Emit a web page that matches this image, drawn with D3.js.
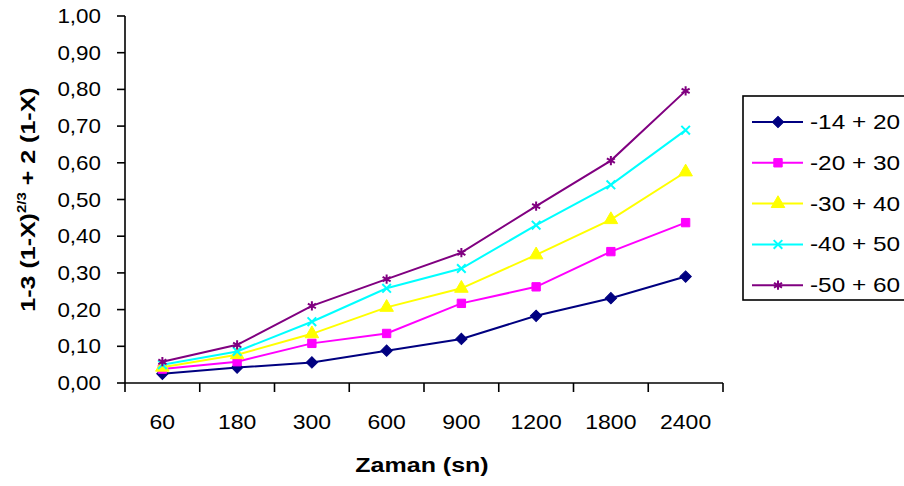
<!DOCTYPE html>
<html>
<head>
<meta charset="utf-8">
<script src="https://cdn.jsdelivr.net/npm/d3@7"></script>
<style>
  html, body { margin: 0; padding: 0; background: #fff; }
  svg { display: block; }
  text { font-family: Arial, "Liberation Sans", sans-serif; fill: #000; }
</style>
</head>
<body>
<svg id="chart" width="904" height="486"></svg>
<script>
// Reaction time categories (seconds)
const categories = ["60", "180", "300", "600", "900", "1200", "1800", "2400"];

// Particle size fractions
const seriesNames = ["-14 + 20", "-20 + 30", "-30 + 40", "-40 + 50", "-50 + 60"];

// 1-3(1-X)^(2/3) + 2(1-X) values per fraction
const s14_20 = [0.025, 0.042, 0.056, 0.088, 0.120, 0.183, 0.231, 0.290];
const s20_30 = [0.038, 0.058, 0.108, 0.135, 0.217, 0.262, 0.358, 0.437];
const s30_40 = [0.043, 0.077, 0.134, 0.206, 0.258, 0.349, 0.445, 0.575];
const s40_50 = [0.050, 0.086, 0.167, 0.258, 0.312, 0.430, 0.540, 0.689];
const s50_60 = [0.058, 0.104, 0.210, 0.283, 0.355, 0.482, 0.606, 0.796];

const yTicks = [0, 0.1, 0.2, 0.3, 0.4, 0.5, 0.6, 0.7, 0.8, 0.9, 1.0];

const seriesValues = [s14_20, s20_30, s30_40, s40_50, s50_60];
const colors = ["#000080", "#FF00FF", "#FFFF00", "#00FFFF", "#800080"];
const symbols = [d3.symbolSquare, d3.symbolSquare, d3.symbolTriangle, d3.symbolTimes, d3.symbolAsterisk];
const symbolSizes = [64, 70, 80, 50, 60];
const symbolRotate = [45, 0, 0, 0, 0];
const filled = [true, true, true, false, false];

const svg = d3.select("#chart");
const margin = { left: 125, right: 723, top: 16, bottom: 383 };

const x = d3.scaleBand().domain(categories).range([margin.left, margin.right]);
const y = d3.scaleLinear().domain([0, 1]).range([margin.bottom, margin.top]);

const fmt = v => d3.format(".2f")(v).replace(".", ",");

// horizontally widened text helper
function sText(g, tx, ty, str, anchor, size, weight, sx) {
  return g.append("text")
    .attr("transform", `translate(${tx},${ty}) scale(${sx},1)`)
    .attr("text-anchor", anchor)
    .attr("font-size", size)
    .attr("font-weight", weight || "normal")
    .text(str);
}

// Y axis
const yAxis = svg.append("g");
yAxis.append("line")
  .attr("x1", margin.left).attr("x2", margin.left)
  .attr("y1", y(1)).attr("y2", y(0))
  .attr("stroke", "#000").attr("stroke-width", 1.6);
yTicks.forEach(t => {
  yAxis.append("line")
    .attr("x1", margin.left - 8).attr("x2", margin.left)
    .attr("y1", y(t)).attr("y2", y(t))
    .attr("stroke", "#000").attr("stroke-width", 1.6);
  sText(yAxis, 101, y(t) + 7, fmt(t), "end", 20, "normal", 1.12);
});

// X axis with ticks between categories
const xAxis = svg.append("g");
xAxis.append("line")
  .attr("x1", margin.left).attr("x2", margin.right)
  .attr("y1", y(0)).attr("y2", y(0))
  .attr("stroke", "#000").attr("stroke-width", 1.6);
const bounds = categories.map(c => x(c)).concat([x.range()[1]]);
bounds.forEach(b => {
  xAxis.append("line")
    .attr("x1", b).attr("x2", b)
    .attr("y1", y(0)).attr("y2", y(0) + 9)
    .attr("stroke", "#000").attr("stroke-width", 1.6);
});
categories.forEach(c => {
  sText(xAxis, x(c) + x.bandwidth() / 2, 429, c, "middle", 20, "normal", 1.15);
});

// Axis titles
sText(svg, (margin.left + margin.right) / 2 - 2, 472, "Zaman (sn)", "middle", 20, "bold", 1.25);

const yTitle = svg.append("text")
  .attr("transform", `translate(35,${(margin.top + margin.bottom) / 2}) rotate(-90) scale(1.25,1)`)
  .attr("text-anchor", "middle")
  .attr("font-size", 20)
  .attr("font-weight", "bold");
yTitle.append("tspan").text("1-3 (1-X)");
yTitle.append("tspan").attr("font-size", 12).attr("dy", -9).text("2/3");
yTitle.append("tspan").attr("dy", 9).text(" + 2 (1-X)");

// Series lines and markers
const line = d3.line()
  .x((d, i) => x(categories[i]) + x.bandwidth() / 2)
  .y(d => y(d));

function marker(g, si, cx, cy) {
  g.append("path")
    .attr("d", d3.symbol().type(symbols[si]).size(symbolSizes[si])())
    .attr("transform", `translate(${cx},${cy}) rotate(${symbolRotate[si]})`)
    .attr("fill", filled[si] ? colors[si] : "none")
    .attr("stroke", colors[si])
    .attr("stroke-width", filled[si] ? 1 : 2);
}

seriesValues.forEach((vals, si) => {
  const g = svg.append("g");
  g.append("path")
    .attr("d", line(vals))
    .attr("fill", "none")
    .attr("stroke", colors[si])
    .attr("stroke-width", 2);
  vals.forEach((v, i) => marker(g, si, x(categories[i]) + x.bandwidth() / 2, y(v)));
});

// Legend
const legend = svg.append("g");
legend.append("rect")
  .attr("x", 743).attr("y", 96)
  .attr("width", 175).attr("height", 204)
  .attr("fill", "#fff").attr("stroke", "#000").attr("stroke-width", 1.6);
seriesNames.forEach((name, si) => {
  const ly = 122 + si * 40.8;
  legend.append("line")
    .attr("x1", 752).attr("x2", 803)
    .attr("y1", ly).attr("y2", ly)
    .attr("stroke", colors[si]).attr("stroke-width", 2);
  marker(legend, si, 778, ly);
  sText(legend, 810, ly + 7, name, "start", 20, "normal", 1.22);
});
</script>
</body>
</html>
